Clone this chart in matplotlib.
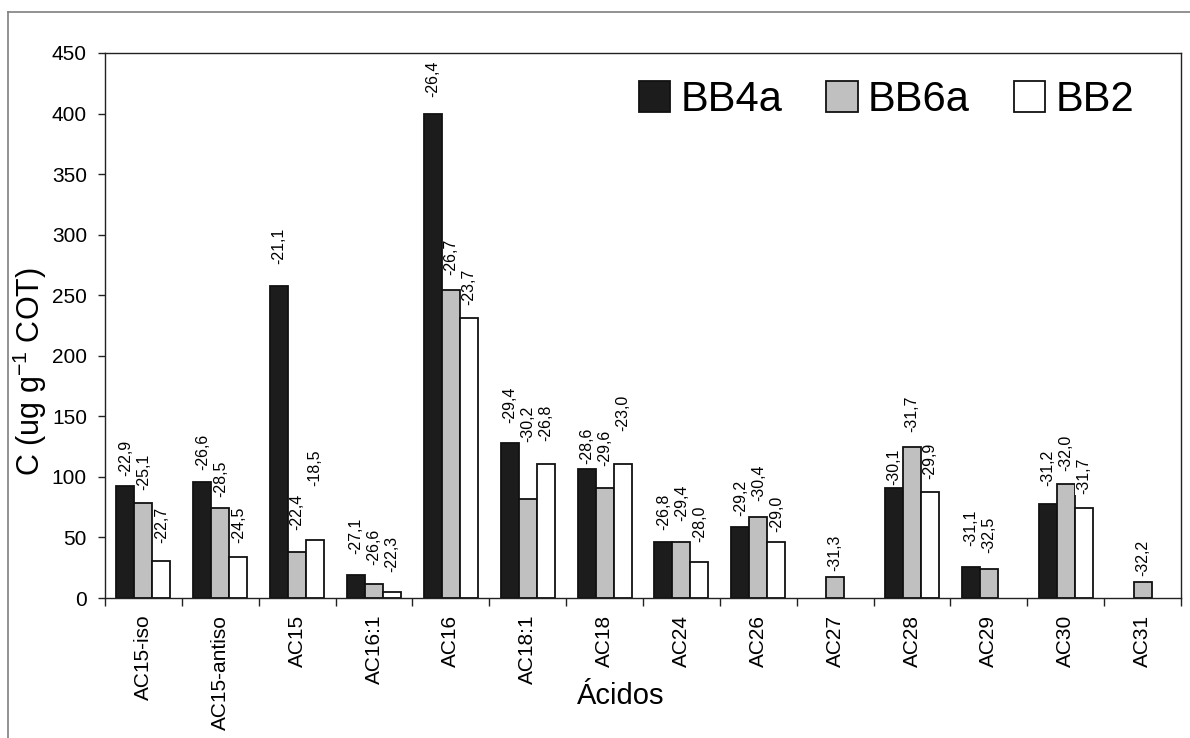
import numpy as np
import matplotlib
matplotlib.use("Agg")
from matplotlib import pyplot as plt
from matplotlib.lines import Line2D

plt.rcParams['font.family'] = ['Liberation Sans', 'DejaVu Sans']
plt.rcParams['mathtext.fontset'] = 'custom'
plt.rcParams['mathtext.rm'] = 'Liberation Sans'
plt.rcParams['mathtext.it'] = 'Liberation Sans'

# data
acids = ["AC15-iso", "AC15-antiso", "AC15", "AC16:1", "AC16", "AC18:1", "AC18",
         "AC24", "AC26", "AC27", "AC28", "AC29", "AC30", "AC31"]
series = ["BB4a", "BB6a", "BB2"]
bb4a = [92.5, 96, 257.8, 19, 400, 127.7, 106.3, 46.5, 58.6, np.nan, 91, 25.8, 77.4, np.nan]
bb6a = [78.7, 74, 38.2, 11.8, 254, 81.7, 91, 46.5, 67.1, 17.6, 124.7, 24.2, 94.1, 13.2]
bb2 = [30.8, 34, 47.5, 4.9, 231.6, 110.6, 110.6, 29.5, 46.2, np.nan, 87.5, np.nan, 74, np.nan]
# delta 13C labels above the bars
lab_bb4a = ["-22,9", "-26,6", "-21,1", "-27,1", "-26,4", "-29,4", "-28,6", "-26,8", "-29,2",
            None, "-30,1", "-31,1", "-31,2", None]
lab_bb6a = ["-25,1", "-28,5", "-22,4", "-26,6", "-26,7", "-30,2", "-29,6", "-29,4", "-30,4",
            "-31,3", "-31,7", "-32,5", "-32,0", "-32,2"]
lab_bb2 = ["-22,7", "-24,5", "-18,5", "-22,3", "-23,7", "-26,8", "-23,0", "-28,0", "-29,0",
           None, "-29,9", None, "-31,7", None]

# gap (pixels) between bar top and its label, as placed in the original
gap_bb4a = [9, 10, 20, 20, 15, 19, 4, 10, 10, 0, 1, 19, 17, 0]
gap_bb6a = [11, 10, 20, 17, 14, 56, 20, 19, 14, 4, 14, 14, 12, 5]
gap_bb2 = [16, 12, 53, 19, 11, 22, 32, 19, 9, 0, 12, 0, 13, 0]

colors = ["#1c1c1c", "#c0c0c0", "#ffffff"]

fig = plt.figure(figsize=(11.9, 7.38), dpi=100)
ax = fig.add_axes([105/1190, 140/738, 1076/1190, 545/738])

# outer frame, cut at the right and bottom edges like the original
fig.add_artist(Line2D([8/1190, 1], [1-12/738, 1-12/738], color="#7f7f7f", lw=1.2))
fig.add_artist(Line2D([8/1190, 8/1190], [0, 1-12/738], color="#7f7f7f", lw=1.2))

x = np.arange(len(acids))
w = 0.234
values = [bb4a, bb6a, bb2]
labels = [lab_bb4a, lab_bb6a, lab_bb2]
gaps = [gap_bb4a, gap_bb6a, gap_bb2]

for k in range(3):
    xs = x + (k - 1) * w
    ax.bar(xs, values[k], width=w, color=colors[k], edgecolor="#111111",
           linewidth=1.3, label=series[k], zorder=2)

for k in range(3):
    xs = x + (k - 1) * w
    for i in range(len(acids)):
        if labels[k][i] is None:
            continue
        ax.annotate(labels[k][i], xy=(xs[i], values[k][i]),
                    xytext=(0, gaps[k][i] * 0.72 + 1), textcoords="offset points",
                    rotation=90, ha="center", va="bottom", fontsize=11.5,
                    bbox=dict(facecolor="white", edgecolor="none", pad=0.6),
                    zorder=3)

ax.set_xlim(-0.5, len(acids) - 0.5)
ax.set_ylim(0, 450)
ax.set_yticks(np.arange(0, 451, 50))
ax.set_xticks(x)
ax.set_xticklabels(acids, rotation=90, fontsize=15)
ax.set_xticks(np.arange(-0.5, len(acids)), minor=True)
ax.tick_params(axis="x", which="major", length=0, pad=12)
ax.tick_params(axis="x", which="minor", length=6, width=1, color="#222222")
ax.tick_params(axis="y", length=5, width=1, color="#222222", pad=8, labelsize=15)
for s in ax.spines.values():
    s.set_color("#222222")
    s.set_linewidth(1)

ax.set_ylabel(r"C (ug g$^{\mathregular{-1}}$ COT)", fontsize=22)
ax.yaxis.set_label_coords(-0.052, 0.415)
ax.set_xlabel("Ácidos", fontsize=21, family=["Liberation Sans Narrow", "Liberation Sans"])
ax.xaxis.set_label_coords(0.479, -0.155)

ax.legend(loc="center left", bbox_to_anchor=(639/1190, 1 - 100/738),
          bbox_transform=fig.transFigure, ncol=3, frameon=False, fontsize=30,
          handlelength=0.75, handleheight=0.75, handletextpad=0.25,
          columnspacing=1.05, borderpad=0, borderaxespad=0)

fig.savefig("out.png", dpi=100)
